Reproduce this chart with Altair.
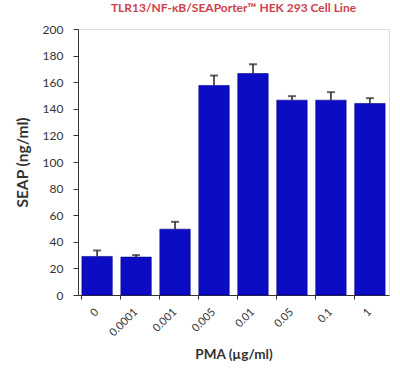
import altair as alt
import pandas as pd

categories = ["0", "0.0001", "0.001", "0.005", "0.01", "0.05", "0.1", "1"]
values = [29, 28.5, 49.5, 157.5, 166.5, 146.5, 146.5, 144]
errors = [4.5, 1.5, 5.5, 7.5, 7.0, 3.0, 6.0, 4.0]
y_ticks = [0, 20, 40, 60, 80, 100, 120, 140, 160, 180, 200]

df = pd.DataFrame({"cat": categories, "val": values, "err": errors})
df["upper"] = df["val"] + df["err"]

FONT = "Lato"

x_axis = alt.Axis(title="PMA (µg/ml)", labelAngle=-45, labelAlign="right",
                  labelBaseline="middle", labelPadding=11, labelFontSize=11,
                  labelColor="#333", titleFontSize=13.5, titleColor="#333",
                  titleFontWeight="bold", titlePadding=10, tickSize=4,
                  bandPosition=0, domainColor="#333", tickColor="#333",
                  labelFont=FONT, titleFont=FONT, labelOverlap=False)
x_scale = alt.Scale(paddingInner=0.22, paddingOuter=0.1)
y_scale = alt.Scale(domain=[0, 200], nice=False)
y_axis = alt.Axis(title="SEAP (ng/ml)", values=y_ticks, tickCount=11, grid=False,
                  labelFontSize=12, labelColor="#333", titleFontSize=15.5,
                  titleColor="#333", titleFontWeight="bold", titlePadding=12,
                  tickSize=5, labelPadding=10, domainColor="#333", tickColor="#333",
                  labelFont=FONT, titleFont=FONT, labelOverlap=False, labelFlush=False)

xe = alt.X("cat:N", sort=categories, scale=x_scale, axis=x_axis)

bars = alt.Chart(df).mark_bar(color="#0c0cc4", stroke="#00008a", strokeWidth=0.6).encode(
    x=xe,
    y=alt.Y("val:Q", scale=y_scale, axis=y_axis),
)
rules = alt.Chart(df).mark_rule(color="#222", strokeWidth=1.5).encode(
    x=xe,
    y=alt.Y("val:Q", scale=y_scale, axis=y_axis),
    y2="upper:Q",
)
caps = alt.Chart(df).mark_tick(color="#222", size=8, thickness=2).encode(
    x=xe,
    y=alt.Y("upper:Q", scale=y_scale, axis=y_axis),
)

chart = alt.layer(bars, rules, caps).properties(
    width=311, height=266,
    title=alt.TitleParams("TLR13/NF-κB/SEAPorter™ HEK 293 Cell Line", color="#d0404a",
                          fontSize=12, fontWeight="bold", font=FONT, offset=8,
                          anchor="middle"),
    autosize=alt.AutoSizeParams(type="none"),
    padding={"left": 78, "top": 29, "right": 11, "bottom": 74},
).configure_view(stroke="#666", strokeWidth=1).configure(background="white")

chart.save("out.html", embed_options={"renderer": "svg", "actions": False})
